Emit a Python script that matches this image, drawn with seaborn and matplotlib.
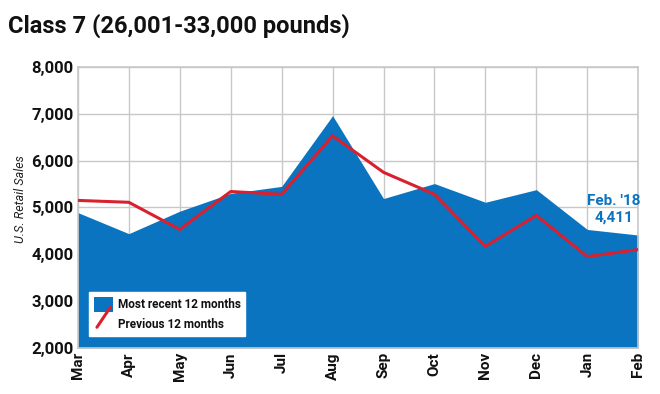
import matplotlib
matplotlib.use("Agg")
import matplotlib.pyplot as plt
import seaborn as sns
import pandas as pd
from matplotlib.patches import Patch
from matplotlib.lines import Line2D
from matplotlib.legend_handler import HandlerBase
from matplotlib.ticker import FuncFormatter

months = ['Mar', 'Apr', 'May', 'Jun', 'Jul', 'Aug', 'Sep', 'Oct', 'Nov', 'Dec', 'Jan', 'Feb']
recent = [4890, 4440, 4920, 5300, 5450, 6960, 5190, 5510, 5110, 5380, 4530, 4411]
previous = [5150, 5110, 4530, 5340, 5280, 6530, 5750, 5280, 4170, 4830, 3950, 4100]

BLUE = '#0a74c0'
RED = '#d8202f'


class DiagonalLine(HandlerBase):
    # legend key drawn as a slanted stroke, like the original
    def create_artists(self, legend, orig, xd, yd, w, h, fs, trans):
        ln = Line2D([xd + 0.15 * w, xd + 0.85 * w], [yd - 0.2 * h, yd + 1.1 * h],
                    color=orig.get_color(), lw=orig.get_linewidth(), transform=trans)
        return [ln]


sns.set_theme(style='whitegrid')
plt.rcParams['font.family'] = ['Roboto', 'DejaVu Sans']

df = pd.DataFrame({'month': months, 'recent': recent, 'previous': previous})
df['pos'] = range(len(df))

fig, ax = plt.subplots(figsize=(6.6, 3.94), dpi=100)
fig.subplots_adjust(left=0.118, right=0.967, top=0.83, bottom=0.117)

ax.fill_between(df['pos'], recent, 2000, color=BLUE, lw=0, zorder=2)
sns.lineplot(data=df, x='pos', y='previous', color=RED, lw=2.2, ax=ax, zorder=3)

ax.set_xlim(0, len(months) - 1)
ax.set_ylim(2000, 8000)
ax.set_xticks(df['pos'])
ax.set_xticklabels(months, rotation=90, fontweight='bold', fontsize=11)
ax.set_yticks(range(2000, 8001, 1000))
ax.yaxis.set_major_formatter(FuncFormatter(lambda v, p: f'{int(v):,}'))
for t in ax.get_yticklabels():
    t.set_fontweight('bold')
    t.set_fontsize(12)
ax.tick_params(axis='both', pad=3, length=0, colors='#111111')
ax.set_xlabel('')
ax.set_ylabel('U.S. Retail Sales', fontstyle='italic', fontsize=9,
              color='#222222')
ax.yaxis.set_label_coords(-0.09, 0.53)
ax.grid(True, color='#c8c8c8', lw=1)
for s in ax.spines.values():
    s.set_color('#c8c8c8')
    s.set_linewidth(1.2)

ax.text(10.52, 4960, "Feb. '18\n4,411", color=BLUE, fontsize=11, fontweight='bold',
        ha='center', va='center', linespacing=1.15, zorder=4)

handles = [Patch(facecolor=BLUE, edgecolor='none'),
           Line2D([0], [0], color=RED, lw=2.2)]
leg = ax.legend(handles, ['Most recent 12 months', 'Previous 12 months'],
                loc='lower left', bbox_to_anchor=(0.01, 0.02), frameon=True,
                fancybox=False, framealpha=1, edgecolor='white',
                prop={'weight': 'bold', 'size': 8.5}, handlelength=1.6,
                handleheight=1.6, borderpad=0.4, labelspacing=0.4,
                handletextpad=0.4,
                handler_map={Line2D: DiagonalLine()})
for t in leg.get_texts():
    t.set_color('#111111')

fig.text(0.012, 0.935, 'Class 7 (26,001-33,000 pounds)', fontsize=17,
         fontweight='bold', ha='left', va='center', color='#111111')

fig.savefig('out.png', dpi=100, facecolor='white')
